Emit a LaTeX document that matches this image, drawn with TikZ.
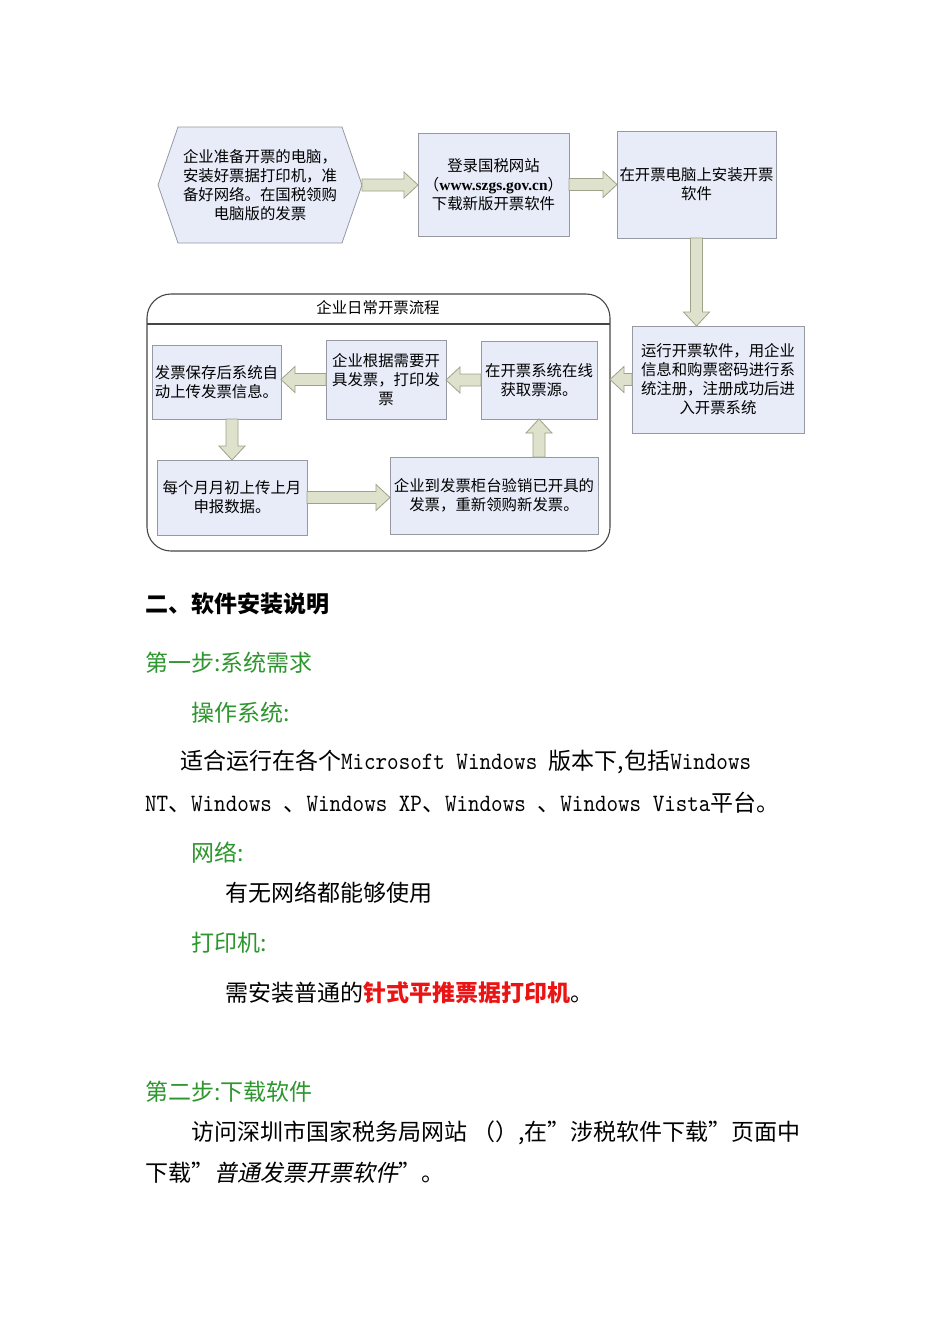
\documentclass[tikz,border=0pt]{standalone}
\usepackage{fontspec}
\newfontfamily\cjk{Noto Sans CJK SC}
\newfontfamily\cjkit[FakeSlant=0.2]{Noto Sans CJK SC}
\newfontfamily\urlfont{Liberation Serif}
\newfontfamily\latf[FakeStretch=0.88]{lmmono10-regular.otf}
\usetikzlibrary{calc,backgrounds}
\definecolor{boxfill}{RGB}{232,236,248}
\definecolor{boxline}{RGB}{150,152,162}
\definecolor{arrfill}{RGB}{222,226,204}
\definecolor{arrline}{RGB}{158,162,138}
\definecolor{stepgreen}{RGB}{46,150,46}
\definecolor{alertred}{RGB}{235,20,20}
\definecolor{contline}{RGB}{70,70,70}
\tikzset{
  every node/.style={inner sep=0pt, outer sep=0pt},
  box/.style={draw=boxline, fill=boxfill, line width=0.8pt, align=center,
    font=\cjk\fontsize{15.4}{19}\selectfont},
  hexbox/.style={align=center, font=\cjk\fontsize{15.4}{19}\selectfont},
  barrow/.style={draw=arrline, fill=arrfill, line width=0.8pt},
  container/.style={draw=contline, line width=1.1pt, rounded corners=24pt},
  title/.style={font=\cjk\fontsize{15.4}{19}\selectfont},
  body/.style={anchor=west, font=\cjk\fontsize{23}{27}\selectfont},
  greenhead/.style={body, text=stepgreen},
}
\newcommand\lat{\latf\fontsize{25}{27}\selectfont}
\newcommand\harr[2]{\draw[barrow] let \p1=(#1), \p2=(#2), \n1={ifthenelse(\x2>\x1,1,-1)} in
  (\x1,\y1-6pt) -- (\x2-\n1*14pt,\y1-6pt) -- (\x2-\n1*14pt,\y1-13pt) -- (\x2,\y1)
  -- (\x2-\n1*14pt,\y1+13pt) -- (\x2-\n1*14pt,\y1+6pt) -- (\x1,\y1+6pt) -- cycle;}
\newcommand\varr[2]{\draw[barrow] let \p1=(#1), \p2=(#2), \n1={ifthenelse(\y2>\y1,1,-1)} in
  (\x1-6pt,\y1) -- (\x1-6pt,\y2-\n1*14pt) -- (\x1-13pt,\y2-\n1*14pt) -- (\x1,\y2)
  -- (\x1+13pt,\y2-\n1*14pt) -- (\x1+6pt,\y2-\n1*14pt) -- (\x1+6pt,\y1) -- cycle;}
\begin{document}
\begin{tikzpicture}[x=1pt,y=-1pt]
\useasboundingbox (0,0) rectangle (950,1344);

% top row
\node[hexbox, minimum width=204pt, minimum height=116pt] (hex) at (260,185)
  {企业准备开票的电脑，\\安装好票据打印机，准\\备好网络。在国税领购\\电脑版的发票};
\begin{scope}[on background layer]
\fill[white] (0,0) rectangle (950,1344);
\draw[draw=boxline, fill=boxfill, line width=0.8pt]
  (hex.west) -- ([xshift=20pt]hex.north west) -- ([xshift=-20pt]hex.north east)
  -- (hex.east) -- ([xshift=-20pt]hex.south east) -- ([xshift=20pt]hex.south west) -- cycle;
\end{scope}
\node[box, minimum width=151pt, minimum height=103pt] (b2) at (493.5,184.5)
  {登录国税网站\\（{\urlfont\bfseries www.szgs.gov.cn}）\\下载新版开票软件};
\node[box, minimum width=159pt, minimum height=107pt] (b3) at (696.5,184.5)
  {在开票电脑上安装开票\\软件};
\node[box, minimum width=172pt, minimum height=107pt] (b4) at (718,379.5)
  {运行开票软件，用企业\\信息和购票密码进行系\\统注册，注册成功后进\\入开票系统};

% container
\node[container, minimum width=463pt, minimum height=257pt] (cont) at (378.5,422.5) {};
\coordinate (tl) at (0,324);
\draw[contline, line width=1.1pt] (cont.west |- tl) -- (cont.east |- tl);
\node[title] (ttl) at (378,308) {企业日常开票流程};

\node[box, minimum width=116pt, minimum height=78pt] (b5) at (539,380)
  {在开票系统在线\\获取票源。};
\node[box, minimum width=120pt, minimum height=79pt] (b6) at (386,379.5)
  {企业根据需要开\\具发票，打印发\\票};
\node[box, minimum width=129pt, minimum height=74pt] (b7) at (216.5,382)
  {发票保存后系统自\\动上传发票信息。};
\node[box, minimum width=150pt, minimum height=75pt] (b8) at (232,497.5)
  {每个月月初上传上月\\申报数据。};
\node[box, minimum width=208pt, minimum height=77pt] (b9) at (494,495.5)
  {企业到发票柜台验销已开具的\\发票，重新领购新发票。};

% arrows
\harr{hex.east}{b2.west |- hex.east}
\harr{b2.east}{b3.west |- b2.east}
\varr{b3.south}{b4.north -| b3.south}
\harr{b4.west}{cont.east |- b4.west}
\harr{b5.west}{b6.east |- b5.west}
\harr{b6.west}{b7.east |- b6.west}
\varr{b7.south -| b8.north}{b8.north}
\harr{b8.east}{b9.west |- b8.east}
\varr{b5.south |- b9.north}{b5.south}

% text
\node[body, font=\cjk\bfseries\fontsize{23}{27}\selectfont] (h2) at (145,604) {二、软件安装说明};
\node[greenhead] (s1) at (145,663) {第一步:系统需求};
\node[greenhead] (os) at (191,713) {操作系统:};
\node[body] (l1) at (180,762) {适合运行在各个{\lat Microsoft Windows }版本下,包括{\lat Windows}};
\node[body] (l2) at (145,803) {{\lat NT}、{\lat Windows }、{\lat Windows XP}、{\lat Windows }、{\lat Windows Vista}平台。};
\node[greenhead] (net) at (191,853) {网络:};
\node[body] (l3) at (225,893) {有无网络都能够使用};
\node[greenhead] (pr) at (191,943) {打印机:};
\node[body] (l4) at (225,993) {需安装普通的{\color{alertred}\bfseries 针式平推票据打印机}。};
\node[greenhead] (s2) at (145,1092) {第二步:下载软件};
\node[body] (l5) at (191,1133) {访问深圳市国家税务局网站 （）,在”涉税软件下载”页面中};
\node[body] (l6) at (145,1173) {下载”{\cjkit 普通发票开票软件}”。};
\end{tikzpicture}
\end{document}
